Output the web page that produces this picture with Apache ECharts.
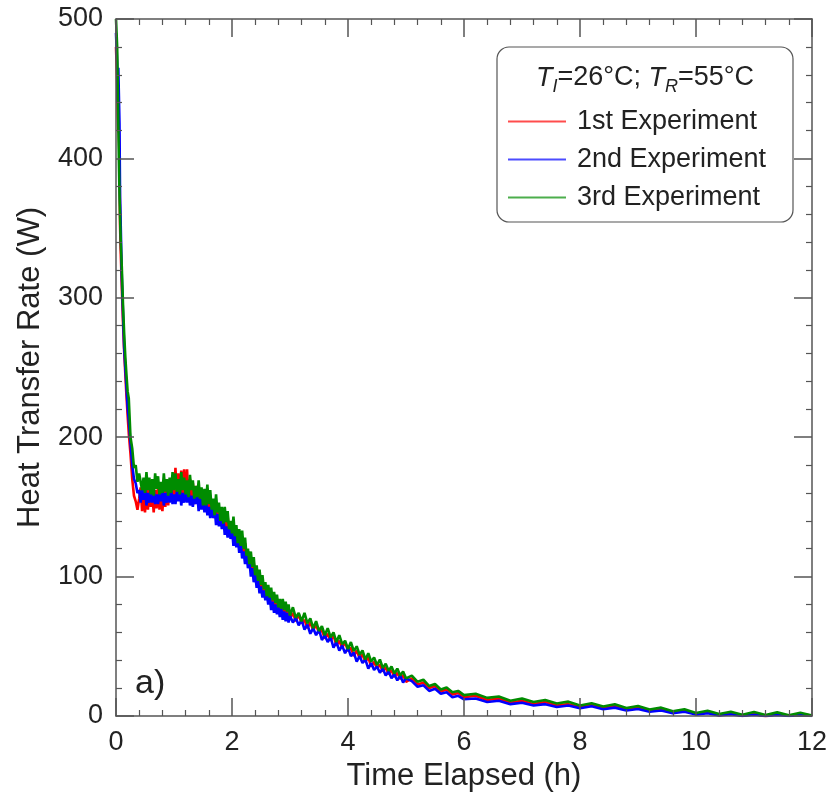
<!DOCTYPE html>
<html>
<head>
<meta charset="utf-8">
<script src="https://cdn.jsdelivr.net/npm/echarts@6/dist/echarts.min.js"></script>
<style>html,body{margin:0;padding:0;background:#fff}#c{width:834px;height:800px}</style>
</head>
<body>
<div id="c"></div>
<script>
// x ticks (h) and y ticks (W)
const xTicks = [0, 2, 4, 6, 8, 10, 12];
const yTicks = [0, 100, 200, 300, 400, 500];
const seriesNames = ['1st Experiment', '2nd Experiment', '3rd Experiment'];
const xTitle = 'Time Elapsed (h)';
const yTitle = 'Heat Transfer Rate (W)';

// sampling times (h)
const timeH = [
  0, 0.02, 0.03, 0.04, 0.05, 0.06, 0.07, 0.08, 0.09, 0.10, 0.12, 0.14, 0.16, 0.18, 0.20, 0.22, 0.25, 0.28, 0.31, 0.34, 0.37, 0.40,
  0.425, 0.45, 0.475, 0.5, 0.525, 0.55, 0.575, 0.6, 0.625, 0.65, 0.675, 0.7, 0.725, 0.75, 0.775, 0.8,
  0.825, 0.85, 0.875, 0.9, 0.925, 0.95, 0.975, 1.0, 1.025, 1.05, 1.075, 1.1, 1.125, 1.15, 1.175, 1.2,
  1.225, 1.25, 1.275, 1.3, 1.325, 1.35, 1.375, 1.4, 1.425, 1.45, 1.475, 1.5, 1.525, 1.55, 1.575, 1.6,
  1.625, 1.65, 1.675, 1.7, 1.725, 1.75, 1.775, 1.8, 1.825, 1.85, 1.875, 1.9, 1.925, 1.95, 1.975, 2.0,
  2.025, 2.05, 2.075, 2.1, 2.125, 2.15, 2.175, 2.2, 2.225, 2.25, 2.275, 2.3, 2.325, 2.35, 2.375, 2.4,
  2.425, 2.45, 2.475, 2.5, 2.525, 2.55, 2.575, 2.6, 2.625, 2.65, 2.675, 2.7, 2.725, 2.75, 2.775, 2.8,
  2.825, 2.85, 2.875, 2.9, 2.925, 2.95, 2.975, 3.0,
  3.05, 3.1, 3.15, 3.2, 3.25, 3.3, 3.35, 3.4, 3.45, 3.5, 3.55, 3.6, 3.65, 3.7, 3.75, 3.8,
  3.85, 3.9, 3.95, 4.0, 4.05, 4.1, 4.15, 4.2, 4.25, 4.3, 4.35, 4.4, 4.45, 4.5, 4.55, 4.6,
  4.65, 4.7, 4.75, 4.8, 4.85, 4.9, 4.95, 5.0,
  5.1, 5.2, 5.3, 5.4, 5.5, 5.6, 5.7, 5.8, 5.9, 6.0,
  6.2, 6.4, 6.6, 6.8, 7.0, 7.2, 7.4, 7.6, 7.8, 8.0, 8.2, 8.4, 8.6, 8.8, 9.0, 9.2, 9.4, 9.6, 9.8, 10.0,
  10.2, 10.4, 10.6, 10.8, 11.0, 11.2, 11.4, 11.6, 11.8, 12.0
];

const exp1 = [
  480, 455, 432, 420, 418, 400, 352, 335, 322, 308, 283, 262, 246, 230, 216, 203, 188, 170, 158, 154, 148, 156,
  164, 147, 161, 146, 163, 148, 165, 150, 160, 146, 162, 149, 165, 148, 159, 147,
  162, 150, 164, 151, 170, 155, 166, 154, 178, 158, 174, 155, 176, 157, 177, 156,
  177, 154, 170, 156, 167, 152, 165, 154, 164, 152, 160, 149, 160, 148, 160, 148,
  158, 145, 154, 142, 153, 142, 149, 138, 147, 136, 146, 135, 143, 132, 138, 128,
  139, 126, 134, 122, 130, 120, 129, 117, 124, 112, 118, 107, 114, 104, 110, 99,
  105, 95, 101, 91, 97, 88, 93, 84, 91, 83, 88, 79, 85, 77, 83, 76,
  81, 75, 81, 73, 78, 72, 77, 70,
  74, 68, 73, 66.5, 69, 63, 67, 61.5, 65.5, 59.5, 62, 55.5, 59, 54, 58, 50.5,
  54, 49, 53, 46.5, 49, 43, 47, 41.5, 44, 39, 42, 35.5, 39, 34, 37, 32,
  35, 30, 33, 28, 31, 26.5, 29.5, 24.5,
  27, 22.5, 24, 20, 21.5, 17.5, 19, 15.5, 16.5, 13.5,
  14.5, 11.5, 12.5, 9.5, 11, 8.5, 10, 7.5, 8.5, 6.5, 8, 5.8, 7.3, 5, 6.2, 3.8, 5, 2.8, 4, 1.6,
  2.8, 0.6, 2, 0, 1.6, -0.4, 1.4, 0.2, 1.2, 0.4
];

const exp2 = [
  490, 468, 440, 465, 445, 425, 372, 355, 335, 315, 290, 265, 250, 236, 222, 212, 196, 180, 170, 167, 160, 162,
  153, 162, 155, 164, 151, 160, 153, 162, 153, 163, 152, 159, 152, 161, 154, 163,
  151, 160, 153, 162, 153, 163, 152, 159, 152, 161, 154, 163, 151, 160, 153, 162,
  153, 163, 151, 158, 150, 159, 152, 160, 147, 156, 148, 156, 146, 156, 144, 150,
  142, 150, 142, 150, 137, 145, 136, 144, 134, 143, 130, 136, 128, 136, 127, 135,
  122, 129, 121, 128, 117, 126, 113, 118, 109, 116, 106, 112, 100, 106, 96, 102,
  92, 98, 88, 93, 85, 90, 83, 88, 80, 86, 76, 82, 74, 80, 73, 78,
  71, 77, 69, 75, 68, 74, 67, 72,
  67, 70.5, 65, 69, 62, 65.5, 59, 63, 58, 62, 54.5, 58, 53, 56.5, 49, 53,
  47, 50.5, 45, 49, 43, 45.5, 39, 43, 38, 40.5, 34, 38, 33, 35.5, 31, 34,
  29, 32, 27, 30, 25.5, 29, 24, 27,
  25, 21, 22, 18, 19.5, 16, 17, 13.5, 14.5, 12,
  12.5, 10, 11, 8.5, 9.5, 7.5, 8.5, 6.5, 7.5, 5.5, 7, 4.8, 6, 4, 5, 3, 4, 2, 3, 1,
  2, 0.3, 1.3, 0, 0.9, 0, 0.7, 0, 0.6, 0
];

const exp3 = [
  500, 480, 455, 425, 398, 375, 358, 343, 332, 322, 296, 275, 258, 245, 233, 228, 200, 192, 178, 180, 168, 174,
  175, 162, 171, 160, 175, 162, 171, 159, 170, 158, 174, 163, 172, 159, 168, 160,
  174, 161, 170, 158, 171, 160, 175, 162, 174, 161, 170, 159, 175, 162, 171, 159,
  169, 157, 173, 162, 169, 156, 165, 157, 169, 156, 164, 151, 163, 151, 166, 152,
  162, 148, 156, 144, 159, 146, 153, 140, 150, 138, 150, 139, 147, 134, 140, 131,
  143, 129, 137, 124, 134, 122, 133, 120, 128, 115, 120, 109, 118, 107, 114, 101,
  108, 97, 105, 94, 101, 91, 96, 86, 94, 85, 92, 83, 89, 81, 87, 78,
  84, 77, 84, 76, 82, 75, 80, 72,
  78, 70.5, 74, 68, 74, 66.5, 70, 63, 68, 61, 64.5, 58, 63, 56.5, 60, 53,
  58, 51.5, 54, 48, 53, 46.5, 50, 44, 47, 40.5, 45, 39, 42, 36.5, 40.5, 34.5,
  37.5, 32.5, 35.5, 30.5, 34, 29, 32, 27,
  29, 24.5, 26, 21.5, 23, 19, 20.5, 17, 18, 15,
  16, 13, 14, 11, 12.5, 10, 11.5, 9, 10.3, 7.6, 9.2, 6.8, 8.4, 5.8, 7.2, 4.6, 6, 3.4, 4.8, 2.2,
  3.8, 1.4, 3.1, 0.9, 2.8, 0.7, 2.6, 0.5, 2.4, 0.4
];

const colors = ['#ff0000', '#0000ff', '#008c00'];
const FONT = '"Liberation Sans", Arial, Helvetica, sans-serif';
const axisColor = '#555';

const chart = echarts.init(document.getElementById('c'), null, {renderer: 'canvas'});

function xAxisCfg(pos, showLabels) {
  return {
    type: 'value', position: pos,
    min: xTicks[0], max: xTicks[xTicks.length - 1], interval: xTicks[1] - xTicks[0],
    name: showLabels ? xTitle : '', nameLocation: 'middle', nameGap: 40,
    nameTextStyle: {fontFamily: FONT, fontSize: 31, color: '#222'},
    axisLine: {show: true, onZero: false, lineStyle: {color: axisColor, width: 1.5}},
    axisTick: {show: true, inside: true, length: 18, lineStyle: {color: axisColor, width: 1.5}},
    minorTick: {show: true, splitNumber: 5, length: 6, lineStyle: {color: axisColor, width: 1.2}},
    axisLabel: {show: showLabels, fontFamily: FONT, fontSize: 27, color: '#222', margin: 13},
    splitLine: {show: false},
    z: 10
  };
}
function yAxisCfg(pos, showLabels) {
  return {
    type: 'value', position: pos,
    min: yTicks[0], max: yTicks[yTicks.length - 1], interval: yTicks[1] - yTicks[0],
    name: showLabels ? yTitle : '', nameLocation: 'middle', nameGap: 70,
    nameTextStyle: {fontFamily: FONT, fontSize: 31, color: '#222'},
    axisLine: {show: true, onZero: false, lineStyle: {color: axisColor, width: 1.5}},
    axisTick: {show: true, inside: true, length: 18, lineStyle: {color: axisColor, width: 1.5}},
    minorTick: {show: true, splitNumber: 5, length: 6, lineStyle: {color: axisColor, width: 1.2}},
    axisLabel: {show: showLabels, fontFamily: FONT, fontSize: 27, color: '#222', margin: 13},
    splitLine: {show: false},
    z: 10
  };
}

const series = [exp1, exp2, exp3].map((vals, k) => ({
  name: seriesNames[k],
  type: 'line',
  xAxisIndex: 0, yAxisIndex: 0,
  data: timeH.map((t, i) => [t, vals[i]]),
  showSymbol: false, symbol: 'none',
  lineStyle: {color: colors[k], width: 2.6, join: 'bevel'},
  itemStyle: {color: colors[k]},
  z: 2 + k,
  animation: false
}));

const option = {
  animation: false,
  backgroundColor: '#fff',
  grid: {left: 116, right: 22, top: 19, bottom: 84, containLabel: false},
  xAxis: [xAxisCfg('bottom', true), xAxisCfg('top', false)],
  yAxis: [yAxisCfg('left', true), yAxisCfg('right', false)],
  legend: {
    orient: 'vertical', left: 508, top: 108, padding: 0,
    itemWidth: 58, itemHeight: 2, itemGap: 11,
    icon: 'rect',
    data: seriesNames.map((n, k) => ({name: n, icon: 'rect', itemStyle: {color: colors[k], opacity: 0.7}})),
    textStyle: {fontFamily: FONT, fontSize: 27, color: '#222', lineHeight: 27, padding: [0, 0, 0, 6]},
    selectedMode: false,
    z: 12
  },
  graphic: [
    {type: 'rect', z: 11, shape: {x: 497, y: 47, width: 296, height: 175, r: 12},
      style: {fill: '#fff', stroke: '#555', lineWidth: 1.2}},
    {type: 'text', z: 12, x: 645, y: 78,
      style: {
        text: '{it|T}{isub|I}{n|=26°C; }{it|T}{isub|R}{n|=55°C}',
        align: 'center', verticalAlign: 'middle',
        rich: {
          it: {fontFamily: FONT, fontSize: 27, fontStyle: 'italic', fill: '#222', lineHeight: 36, verticalAlign: 'middle'},
          n: {fontFamily: FONT, fontSize: 27, fill: '#222', lineHeight: 36, verticalAlign: 'middle'},
          isub: {fontFamily: FONT, fontSize: 18, fontStyle: 'italic', fill: '#222', lineHeight: 36, verticalAlign: 'bottom'}
        }
      }},
    {type: 'text', z: 12, left: 135, top: 667,
      style: {text: 'a)', fontFamily: FONT, fontSize: 34, fill: '#222'}}
  ],
  series: series
};
chart.setOption(option);
</script>
</body>
</html>
